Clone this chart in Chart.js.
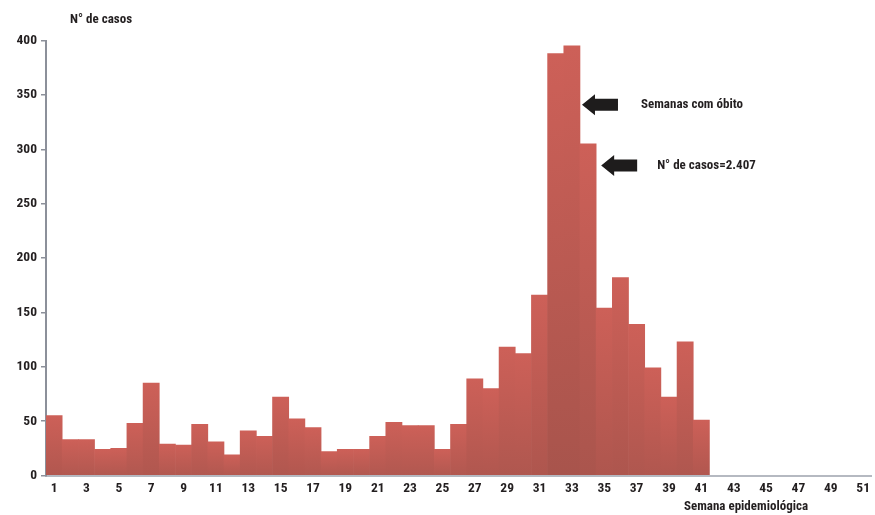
<!DOCTYPE html>
<html>
<head>
<meta charset="utf-8">
<script src="https://cdn.jsdelivr.net/npm/chart.js@4.4.1/dist/chart.umd.min.js"></script>
<style>
  html, body { margin: 0; padding: 0; background: #ffffff; }
  #wrap { width: 875px; height: 515px; position: relative; }
</style>
</head>
<body>
<div id="wrap"><canvas id="chart" width="875" height="515"></canvas></div>
<script>
// Epidemiological weeks shown on the horizontal axis (1 to 51)
const weeks = [
  '1','2','3','4','5','6','7','8','9','10','11','12','13','14','15','16','17',
  '18','19','20','21','22','23','24','25','26','27','28','29','30','31','32','33','34',
  '35','36','37','38','39','40','41','42','43','44','45','46','47','48','49','50','51'
];

// Number of cases per epidemiological week (weeks 1 to 41)
const cases = [
  55, 33, 33, 24, 25, 48, 85, 29, 28, 47,
  31, 19, 41, 36, 72, 52, 44, 22, 24, 24,
  36, 49, 46, 46, 24, 47, 89, 80, 118, 112,
  166, 388, 395, 305, 154, 182, 139, 99, 72, 123,
  51
];

// Vertical axis ticks
const yTicks = [0, 50, 100, 150, 200, 250, 300, 350, 400];

// Callouts: week whose bar the arrow points at, the value level of the arrow, and its text
const calloutWeeks = ['33', '34'];
const calloutLevels = [341, 285];
const calloutTexts = ['Semanas com óbito', 'N° de casos=2.407'];

const FONT = '"Roboto Condensed", "Open Sans", sans-serif';
const TEXT = '#231f20';

// Each bar fades from a light red top to a darker base
function barFill(ctx) {
  const chart = ctx.chart;
  if (!chart.chartArea || ctx.raw == null) return '#c85e56';
  const ys = chart.scales.y;
  const top = ys.getPixelForValue(ctx.raw);
  const bot = ys.getPixelForValue(0);
  if (!isFinite(top) || bot - top < 1) return '#c85e56';
  const t = Math.min(ctx.raw / 400, 1);
  const g = chart.ctx.createLinearGradient(0, top, 0, bot);
  g.addColorStop(0, 'rgb(205,96,88)');
  g.addColorStop(1, `rgb(${Math.round(178 - 10 * t)},${Math.round(88 - 4 * t)},${Math.round(80 - 4 * t)})`);
  return g;
}

// Axis titles and arrow callouts
const decorations = {
  id: 'decorations',
  afterDraw(chart) {
    const { ctx, scales } = chart;
    const xs = scales.x, ys = scales.y;
    ctx.save();
    ctx.fillStyle = TEXT;
    ctx.font = 'bold 13px ' + FONT;
    ctx.textBaseline = 'middle';

    // Y axis title above the axis
    ctx.textAlign = 'left';
    ctx.fillText('N° de casos', 70, 20);

    // X axis title under the tick labels
    ctx.textAlign = 'center';
    ctx.fillText('Semana epidemiológica', 746, 507);

    // Arrows pointing left at the peak bars
    const step = xs.getPixelForValue(1) - xs.getPixelForValue(0);
    calloutWeeks.forEach((wk, i) => {
      const idx = weeks.indexOf(wk);
      const tipX = xs.getPixelForValue(idx) + step / 2 + 2 + i * 3;
      const tipY = ys.getPixelForValue(calloutLevels[i]);
      const headLen = 13, headHalf = 10.5, shaftHalf = 6, len = 36;
      ctx.fillStyle = '#1e1c1c';
      ctx.beginPath();
      ctx.moveTo(tipX, tipY);
      ctx.lineTo(tipX + headLen, tipY - headHalf);
      ctx.lineTo(tipX + headLen, tipY - shaftHalf);
      ctx.lineTo(tipX + len, tipY - shaftHalf);
      ctx.lineTo(tipX + len, tipY + shaftHalf);
      ctx.lineTo(tipX + headLen, tipY + shaftHalf);
      ctx.lineTo(tipX + headLen, tipY + headHalf);
      ctx.closePath();
      ctx.fill();

      ctx.fillStyle = TEXT;
      ctx.textAlign = 'left';
      ctx.fillText(calloutTexts[i], tipX + 59 - i * 3, tipY);
    });
    ctx.restore();
  }
};

new Chart(document.getElementById('chart'), {
  type: 'bar',
  data: {
    labels: weeks,
    datasets: [{
      data: cases,
      backgroundColor: barFill,
      borderWidth: 0,
      barPercentage: 1.0,
      categoryPercentage: 1.0
    }]
  },
  options: {
    responsive: false,
    animation: false,
    devicePixelRatio: 1,
    layout: { padding: { top: 40.5, right: 3, left: 0, bottom: 0 } },
    plugins: {
      legend: { display: false },
      tooltip: { enabled: false },
      title: { display: false }
    },
    scales: {
      x: {
        grid: { display: true, drawOnChartArea: false, drawTicks: false },
        border: { display: true, color: '#b5b9c1', width: 2 },
        ticks: {
          autoSkip: false,
          maxRotation: 0,
          minRotation: 0,
          padding: 5,
          color: TEXT,
          font: { family: FONT, size: 13.5, weight: 'bold' },
          callback: (v, i) => (i % 2 === 0 ? weeks[i] : '')
        },
        afterFit: s => { s.height = 39.5; }
      },
      y: {
        min: 0,
        max: 400,
        afterBuildTicks: s => { s.ticks = yTicks.map(v => ({ value: v })); },
        grid: { display: true, drawOnChartArea: false, drawTicks: true, tickLength: 5, color: '#8c909a', lineWidth: 1.5 },
        border: { display: true, color: '#8c909a', width: 2 },
        ticks: {
          padding: 4,
          color: TEXT,
          font: { family: FONT, size: 13.5, weight: 'bold' }
        },
        afterFit: s => { s.width = 46; }
      }
    }
  },
  plugins: [decorations]
});
</script>
</body>
</html>
